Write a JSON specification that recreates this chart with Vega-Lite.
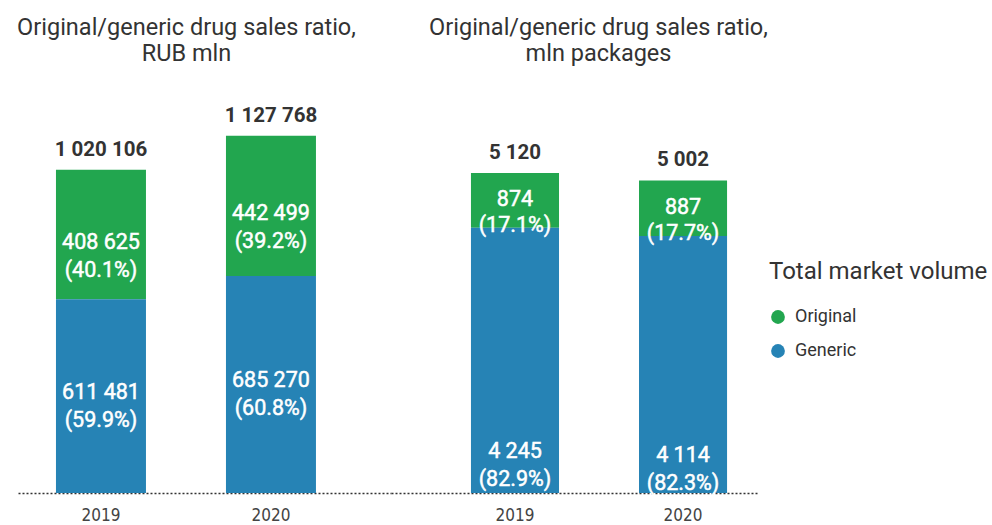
{
  "$schema": "https://vega.github.io/schema/vega-lite/v6.json",
  "padding": {"left": 17, "top": 15, "right": 0, "bottom": 0},
  "config": {
    "view": {"stroke": null},
    "font": "Roboto",
    "locale": {"number": {"decimal": ".", "thousands": " ", "grouping": [3], "currency": ["", ""]}},
    "title": {"fontSize": 23.5, "fontWeight": "normal", "color": "#333333", "lineHeight": 26, "offset": 32, "anchor": "middle", "font": "Roboto"},
    "axisX": {"domainDash": [2, 2], "domainColor": "#333333", "domainWidth": 1.5, "ticks": false, "labelAngle": 0, "labelFontSize": 17, "labelColor": "#444444", "labelPadding": 14, "title": null, "grid": false, "labelFont": "Liberation Sans Narrow, DejaVu Sans Condensed, Roboto"},
    "legend": {"titleFontSize": 24, "titleFontWeight": "normal", "titleColor": "#333333", "titleFont": "Roboto", "titleLimit": 400, "labelLimit": 300, "labelFontSize": 18, "labelColor": "#333333", "labelFont": "Roboto", "symbolType": "circle", "symbolSize": 190, "symbolStrokeWidth": 0, "rowPadding": 16, "titlePadding": 24, "labelOffset": 8}
  },
  "data": {"values": [
    {"panel": "RUB", "year": "2019", "type": "Original", "value": 408625, "pct": 40.1, "total": 1020106},
    {"panel": "RUB", "year": "2019", "type": "Generic", "value": 611481, "pct": 59.9, "total": 1020106},
    {"panel": "RUB", "year": "2020", "type": "Original", "value": 442499, "pct": 39.2, "total": 1127768},
    {"panel": "RUB", "year": "2020", "type": "Generic", "value": 685270, "pct": 60.8, "total": 1127768},
    {"panel": "PKG", "year": "2019", "type": "Original", "value": 874, "pct": 17.1, "total": 5120},
    {"panel": "PKG", "year": "2019", "type": "Generic", "value": 4245, "pct": 82.9, "total": 5120},
    {"panel": "PKG", "year": "2020", "type": "Original", "value": 887, "pct": 17.7, "total": 5002},
    {"panel": "PKG", "year": "2020", "type": "Generic", "value": 4114, "pct": 82.3, "total": 5002}
  ]},
  "transform": [
    {"stack": "value", "groupby": ["panel", "year"], "sort": [{"field": "type", "order": "ascending"}], "as": ["y0", "y1"]},
    {"calculate": "(datum.y0 + datum.y1) / 2", "as": "mid"},
    {"calculate": "format(datum.value, ',') + '\\n(' + format(datum.pct, '.1f') + '%)'", "as": "lbl"},
    {"calculate": "format(datum.total, ',')", "as": "totlbl"}
  ],
  "spacing": 0,
  "hconcat": [
    {
      "width": 373,
      "height": 396,
      "title": {"text": ["Original/generic drug sales ratio,", "RUB mln"], "dx": -18},
      "transform": [{"filter": "datum.panel == 'RUB'"}],
      "encoding": {
        "x": {"field": "year", "type": "ordinal", "scale": {"paddingInner": 0.4706, "paddingOuter": 0.3324, "align": 0.336}}
      },
      "layer": [
        {
          "mark": {"type": "bar"},
          "encoding": {
            "y": {"field": "y1", "type": "quantitative", "scale": {"domain": [0, 1250000], "nice": false}, "axis": null},
            "y2": {"field": "y0"},
            "color": {"field": "type", "type": "nominal", "scale": {"domain": ["Original", "Generic"], "range": ["#22a64f", "#2683b5"]}, "legend": {"title": "Total market volume", "orient": "none", "legendX": 751, "legendY": 163}}
          }
        },
        {
          "transform": [{"filter": "datum.type == 'Original'"}],
          "mark": {"type": "text", "color": "white", "stroke": "white", "strokeWidth": 0.5, "fontSize": 21.5, "fontWeight": "normal", "lineBreak": "\n", "lineHeight": 28, "baseline": "middle", "dy": 8},
          "encoding": {
            "y": {"field": "mid", "type": "quantitative"},
            "text": {"field": "lbl", "type": "nominal"}
          }
        },
        {
          "transform": [{"filter": "datum.type == 'Generic'"}],
          "mark": {"type": "text", "color": "white", "stroke": "white", "strokeWidth": 0.5, "fontSize": 21.5, "fontWeight": "normal", "lineBreak": "\n", "lineHeight": 28, "baseline": "middle", "dy": -3},
          "encoding": {
            "y": {"field": "mid", "type": "quantitative"},
            "text": {"field": "lbl", "type": "nominal"}
          }
        },
        {
          "transform": [{"filter": "datum.type == 'Original'"}],
          "mark": {"type": "text", "color": "#333333", "fontSize": 20.5, "fontWeight": "bold", "baseline": "bottom", "dy": -10},
          "encoding": {
            "y": {"field": "y1", "type": "quantitative"},
            "text": {"field": "totlbl", "type": "nominal"}
          }
        }
      ]
    },
    {
      "width": 367,
      "height": 396,
      "title": {"text": ["Original/generic drug sales ratio,", "mln packages"], "dx": 24},
      "transform": [{"filter": "datum.panel == 'PKG'"}],
      "encoding": {
        "x": {"field": "year", "type": "ordinal", "scale": {"paddingInner": 0.476, "paddingOuter": 0.33, "align": 0.721}}
      },
      "layer": [
        {
          "mark": {"type": "bar"},
          "encoding": {
            "y": {"field": "y1", "type": "quantitative", "scale": {"domain": [0, 6336], "nice": false}, "axis": null},
            "y2": {"field": "y0"},
            "color": {"field": "type", "type": "nominal"}
          }
        },
        {
          "transform": [{"filter": "datum.type == 'Original'"}],
          "mark": {"type": "text", "color": "white", "stroke": "white", "strokeWidth": 0.5, "fontSize": 21.5, "fontWeight": "normal", "lineBreak": "\n", "lineHeight": 26, "baseline": "middle", "dy": 0},
          "encoding": {
            "y": {"field": "mid", "type": "quantitative"},
            "text": {"field": "lbl", "type": "nominal"}
          }
        },
        {
          "transform": [{"filter": "datum.type == 'Generic'"}],
          "mark": {"type": "text", "color": "white", "stroke": "white", "strokeWidth": 0.5, "fontSize": 21.5, "fontWeight": "normal", "lineBreak": "\n", "lineHeight": 28, "baseline": "middle", "dy": 92},
          "encoding": {
            "y": {"field": "mid", "type": "quantitative"},
            "text": {"field": "lbl", "type": "nominal"}
          }
        },
        {
          "transform": [{"filter": "datum.type == 'Original'"}],
          "mark": {"type": "text", "color": "#333333", "fontSize": 20.5, "fontWeight": "bold", "baseline": "bottom", "dy": -10},
          "encoding": {
            "y": {"field": "y1", "type": "quantitative"},
            "text": {"field": "totlbl", "type": "nominal"}
          }
        }
      ]
    }
  ],
  "resolve": {"scale": {"color": "shared", "y": "independent", "x": "independent"}, "legend": {"color": "shared"}}
}
